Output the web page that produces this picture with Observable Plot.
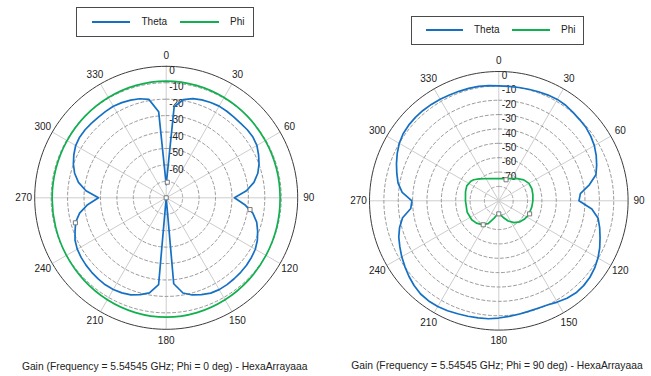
<!DOCTYPE html>
<html><head><meta charset="utf-8">
<script src="https://cdn.jsdelivr.net/npm/d3@7"></script>
<script src="https://cdn.jsdelivr.net/npm/@observablehq/plot@0.6"></script>
<style>
body{margin:0;background:#fff;font-family:"Liberation Sans",Arial,sans-serif;}
#wrap{position:relative;width:651px;height:376px;overflow:hidden;background:#fff;}
.panel{position:absolute;top:0;}
.legend{position:absolute;border:1px solid #4a4a4a;box-sizing:border-box;background:#fff;}
.sw{position:absolute;height:2px;}
.lt{position:absolute;font-size:10px;line-height:12px;color:#222;white-space:nowrap;}
.cap{position:absolute;font-size:10.3px;line-height:12px;color:#222;white-space:nowrap;transform:translateX(-50%);}
</style></head><body><div id="wrap"></div><script>
// ---------- data ----------
const angleTicks = [0, 30, 60, 90, 120, 150, 180, 210, 240, 270, 300, 330];
const angles5 = [0,5,10,15,20,25,30,35,40,45,50,55,60,65,70,75,80,85,90,95,100,105,110,115,120,125,130,135,140,145,150,155,160,165,170,175,180,185,190,195,200,205,210,215,220,225,230,235,240,245,250,255,260,265,270,275,280,285,290,295,300,305,310,315,320,325,330,335,340,345,350,355];

// Left chart: Phi = 0 deg
const leftRingTicks = [0, -10, -20, -30, -40, -50, -60];
const leftThetaGain = [-72,-24.5,-19.3,-17.5,-16.6,-16.0,-15.6,-15.7,-15.9,-15.9,-15.6,-15.6,-16.3,-18.0,-19.9,-22.3,-25.8,-31.0,-38.5,-32.0,-26.5,-23.0,-20.8,-18.8,-17.4,-16.7,-16.2,-15.9,-15.7,-15.5,-15.5,-16.0,-17.3,-18.8,-21.2,-27.5,-80,-27.0,-21.3,-19.0,-17.2,-16.2,-15.6,-15.4,-15.6,-15.9,-16.3,-16.8,-17.5,-18.8,-21.0,-23.0,-26.5,-32.0,-38.8,-31.0,-25.8,-22.3,-19.9,-18.0,-16.4,-15.7,-15.6,-15.8,-15.9,-15.8,-15.7,-16.1,-16.8,-17.6,-19.2,-27.5];
const leftPhiAngles = [0,15,30,45,60,75,90,105,120,135,150,165,180,195,210,225,240,255,270,285,300,315,330,345];
const leftPhiGain = [-9.0,-9.2,-9.6,-10.0,-10.4,-10.6,-10.7,-10.4,-9.9,-9.2,-8.4,-7.7,-7.4,-7.7,-8.4,-9.2,-9.9,-10.4,-10.6,-10.6,-10.4,-10.0,-9.6,-9.2];
const leftMarkerAngles = [4, 0, 254.6, 98];
const leftMarkerGain = [-70.5, -80, -22.7, -28.5];

// Right chart: Phi = 90 deg
const rightRingTicks = [0, -10, -20, -30, -40, -50, -60, -70];
const rightThetaGain = [-10.0,-10.0,-9.9,-9.6,-9.2,-8.8,-8.5,-8.8,-9.6,-10.3,-10.7,-11.8,-13.2,-15.2,-17.5,-20.0,-26.0,-33.0,-34.2,-25.0,-19.8,-17.3,-15.0,-12.5,-10.3,-8.5,-7.2,-6.5,-6.4,-7.2,-8.6,-10.0,-10.4,-10.3,-9.8,-9.2,-8.4,-7.6,-7.2,-6.8,-6.3,-5.6,-5.0,-4.9,-5.3,-6.6,-8.3,-10.2,-12.0,-14.0,-15.9,-18.5,-22.0,-28.5,-29.5,-22.5,-18.8,-16.5,-14.2,-12.0,-10.0,-8.7,-8.1,-7.9,-7.9,-8.1,-8.4,-8.7,-8.9,-9.0,-9.1,-9.5];
const rightPhiAngles = [0,20,40,50,60,70,80,90,100,115,125,135,145,155,165,172,180,188,195,205,215,225,235,250,270,285,295,305,310,318,340];
const rightPhiGain = [-74.6,-73.5,-69.9,-67.3,-65.8,-65.5,-65.9,-66.3,-66.6,-67.0,-68.0,-69.3,-71.5,-74.5,-78.0,-80.0,-81.0,-80.0,-77.5,-72.5,-69.8,-68.0,-67.0,-66.6,-66.8,-66.0,-65.4,-66.2,-67.2,-69.5,-73.5];
const rightMarkerAngles = [19, 180, 213, 113];
const rightMarkerGain = [-74.5, -80.9, -70.1, -66.7];

const seriesNames = ["Theta", "Phi"];
const seriesColors = ["#1570c4", "#10b04e"];
const captions = [
  "Gain (Frequency = 5.54545 GHz; Phi = 0 deg) - HexaArrayaaa",
  "Gain (Frequency = 5.54545 GHz; Phi = 90 deg) - HexaArrayaaa"
];

// ---------- drawing ----------
const FONT = "'Liberation Sans', Arial, sans-serif";
function polarChart(c) {
  const span = -c.min;
  const pxPerUnit = c.R / span;
  const rad = a => a * Math.PI / 180;
  const px = (a, v) => Math.max(0, v - c.min) * Math.sin(rad(a));
  const py = (a, v) => Math.max(0, v - c.min) * Math.cos(rad(a));
  const zip = (A, V) => A.map((a, i) => ({a, v: V[i]}));
  const theta = zip(angles5, c.thetaGain);
  const phi = zip(c.phiAngles, c.phiGain);
  const markers = zip(c.markerAngles, c.markerGain);
  const ringVals = d3.range(-10, c.min, -10);
  const circleSteps = d3.range(0, 361, 2);
  const ringPts = ringVals.flatMap(v => circleSteps.map(a => ({a, v})));
  const outerPts = circleSteps.map(a => ({a, v: 0}));
  const labelR = span + 11 / pxPerUnit;
  return Plot.plot({
    width: c.width, height: 376,
    marginTop: 0, marginBottom: 0, marginLeft: 0, marginRight: 0,
    x: {domain: [-span, span], range: [c.cx - c.R, c.cx + c.R], axis: null},
    y: {domain: [-span, span], range: [c.cy + c.R, c.cy - c.R], axis: null},
    style: {fontFamily: FONT, fontSize: "10px", background: "transparent", overflow: "visible"},
    marks: [
      Plot.link(angleTicks, {x1: () => 0, y1: () => 0, x2: a => span * Math.sin(rad(a)), y2: a => span * Math.cos(rad(a)), stroke: "#cdcdcd", strokeWidth: 1}),
      Plot.line(ringPts, {x: d => px(d.a, d.v), y: d => py(d.a, d.v), z: "v", stroke: "#9a9a9a", strokeWidth: 1, strokeDasharray: "3,2.5"}),
      Plot.line(outerPts, {x: d => px(d.a, d.v), y: d => py(d.a, d.v), stroke: "#3c3c3c", strokeWidth: 1}),
      Plot.text(c.ringTicks, {x: () => 0, y: v => v - c.min, text: v => String(v), textAnchor: "start", lineAnchor: "top", dx: 3, dy: 0.5, fill: "#222"}),
      Plot.line(phi, {x: d => px(d.a, d.v), y: d => py(d.a, d.v), stroke: seriesColors[1], strokeWidth: 1.7, curve: c.phiCurve}),
      Plot.line(theta, {x: d => px(d.a, d.v), y: d => py(d.a, d.v), stroke: seriesColors[0], strokeWidth: 1.7, curve: "linear-closed"}),
      Plot.dot(markers, {x: d => px(d.a, d.v), y: d => py(d.a, d.v), symbol: "square", r: 2.3, fill: "white", stroke: "#7a7a7a", strokeWidth: 1}),
      Plot.text(angleTicks, {x: a => labelR * Math.sin(rad(a)), y: a => labelR * Math.cos(rad(a)), text: a => String(a), textAnchor: "middle", lineAnchor: "middle", fill: "#222"})
    ]
  });
}

const wrap = document.getElementById("wrap");
function addPanel(left, node) {
  node.classList.add("panel");
  node.style.left = left + "px";
  wrap.appendChild(node);
}
addPanel(0, polarChart({width: 330, cx: 165.7, cy: 197.3, R: 131.5, min: -80,
  thetaGain: leftThetaGain, phiAngles: leftPhiAngles, phiGain: leftPhiGain, phiCurve: "catmull-rom-closed",
  markerAngles: leftMarkerAngles, markerGain: leftMarkerGain, ringTicks: leftRingTicks}));
addPanel(330, polarChart({width: 321, cx: 168.3, cy: 200.3, R: 129.3, min: -90,
  thetaGain: rightThetaGain, phiAngles: rightPhiAngles, phiGain: rightPhiGain, phiCurve: "linear-closed",
  markerAngles: rightMarkerAngles, markerGain: rightMarkerGain, ringTicks: rightRingTicks}));

function addLegend(box, items) {
  const lg = document.createElement("div");
  lg.className = "legend";
  Object.assign(lg.style, {left: box.x + "px", top: box.y + "px", width: box.w + "px", height: box.h + "px"});
  wrap.appendChild(lg);
  items.forEach((it, i) => {
    const sw = document.createElement("div");
    sw.className = "sw";
    Object.assign(sw.style, {left: it.sx + "px", top: (box.cy - 1) + "px", width: it.sw + "px", background: seriesColors[i]});
    wrap.appendChild(sw);
    const t = document.createElement("div");
    t.className = "lt";
    t.textContent = seriesNames[i];
    Object.assign(t.style, {left: it.tx + "px", top: (box.cy - 6.5) + "px"});
    wrap.appendChild(t);
  });
}
addLegend({x: 76, y: 7, w: 178, h: 30, cy: 22.3}, [{sx: 92, sw: 38, tx: 141.5}, {sx: 180, sw: 38.5, tx: 230}]);
addLegend({x: 411, y: 16, w: 173, h: 29, cy: 30.3}, [{sx: 425.7, sw: 37.6, tx: 474}, {sx: 511.7, sw: 38.3, tx: 561}]);

function addCaption(text, cx, cy) {
  const d = document.createElement("div");
  d.className = "cap";
  d.textContent = text;
  Object.assign(d.style, {left: cx + "px", top: (cy - 6) + "px"});
  wrap.appendChild(d);
}
addCaption(captions[0], 164.7, 367.3);
addCaption(captions[1], 497, 365.7);
</script></body></html>
